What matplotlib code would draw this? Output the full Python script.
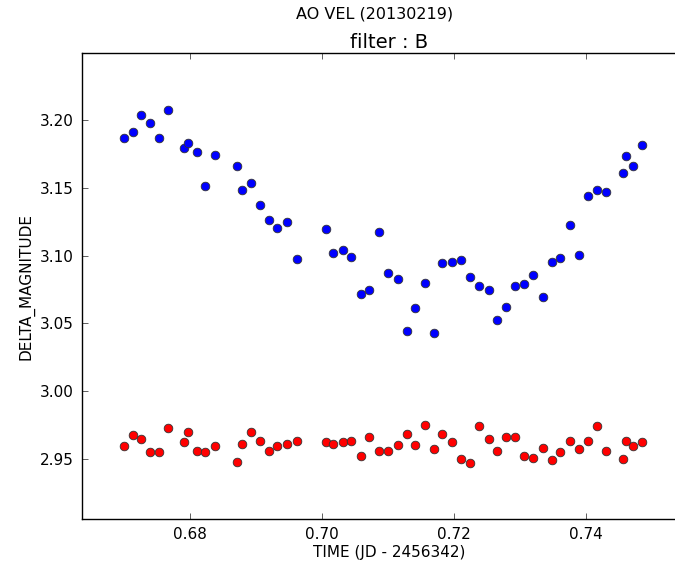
import numpy as np
import matplotlib
matplotlib.use('Agg')
import matplotlib.pyplot as plt

# time (JD - 2456342)
t = [0.6700, 0.6713, 0.6726, 0.6739, 0.6753, 0.6766, 0.6791, 0.6797, 0.6810, 0.6823,
     0.6837, 0.6871, 0.6878, 0.6892, 0.6906, 0.6919, 0.6932, 0.6947, 0.6961, 0.7006,
     0.7017, 0.7031, 0.7044, 0.7058, 0.7071, 0.7086, 0.7100, 0.7115, 0.7128, 0.7141,
     0.7156, 0.7169, 0.7182, 0.7197, 0.7210, 0.7224, 0.7237, 0.7252, 0.7265, 0.7278,
     0.7292, 0.7306, 0.7320, 0.7334, 0.7348, 0.7361, 0.7375, 0.7389, 0.7403, 0.7416,
     0.7430, 0.7455, 0.7461, 0.7471, 0.7485]

var_mag = [3.1867, 3.1911, 3.2039, 3.1982, 3.1867, 3.2076, 3.1798, 3.1832, 3.1768, 3.1515,
           3.1746, 3.1660, 3.1487, 3.1537, 3.1372, 3.1261, 3.1207, 3.1251, 3.0978, 3.1199,
           3.1022, 3.1042, 3.0992, 3.0719, 3.0749, 3.1173, 3.0872, 3.0828, 3.0446, 3.0611,
           3.0800, 3.0426, 3.0948, 3.0955, 3.0972, 3.0842, 3.0778, 3.0749, 3.0525, 3.0619,
           3.0778, 3.0791, 3.0857, 3.0692, 3.0955, 3.0980, 3.1229, 3.1007, 3.1439, 3.1487,
           3.1468, 3.1611, 3.1738, 3.1660, 3.1818]

check_mag = [2.9594, 2.9673, 2.9648, 2.9549, 2.9549, 2.9729, 2.9621, 2.9699, 2.9557, 2.9549,
             2.9594, 2.9478, 2.9609, 2.9699, 2.9629, 2.9557, 2.9594, 2.9609, 2.9629, 2.9621,
             2.9609, 2.9621, 2.9629, 2.9520, 2.9658, 2.9557, 2.9557, 2.9601, 2.9680, 2.9601,
             2.9749, 2.9572, 2.9680, 2.9621, 2.9500, 2.9466, 2.9744, 2.9643, 2.9557, 2.9658,
             2.9658, 2.9520, 2.9507, 2.9579, 2.9490, 2.9549, 2.9629, 2.9572, 2.9629, 2.9744,
             2.9557, 2.9500, 2.9629, 2.9592, 2.9621]

yticks = [2.95, 3.00, 3.05, 3.10, 3.15, 3.20]
xticks = [0.68, 0.70, 0.72, 0.74]

fig = plt.figure(figsize=(6.75, 5.63), dpi=100)
ax = fig.add_axes([0.1215, 0.0782, 0.9093, 0.827])

ax.plot(t, var_mag, 'o', color='#0000ff', mec='#333333', mew=0.6, ms=6.2)
ax.plot(t, check_mag, 'o', color='#ff0000', mec='#333333', mew=0.6, ms=6.2)

ax.set_xlim(0.6636, 0.7566)
ax.set_ylim(2.9055, 3.2495)
ax.set_xticks(xticks)
ax.set_xticklabels(['{:.2f}'.format(v) for v in xticks])
ax.set_yticks(yticks)
ax.set_yticklabels(['{:.2f}'.format(v) for v in yticks])
ax.tick_params(labelsize=11, direction='in', length=4, width=0.6, color='#444444',
               pad=6, top=True, right=False)
ax.spines['right'].set_visible(False)
for s in ['left', 'bottom', 'top']:
    ax.spines[s].set_linewidth(1.0)

ax.set_xlabel('TIME (JD - 2456342)', fontsize=11, labelpad=2)
ax.set_ylabel('DELTA_MAGNITUDE', fontsize=11, labelpad=3.7)
ax.set_title('filter : B', fontsize=14, pad=4)
fig.text(0.555, 0.975, 'AO VEL (20130219)', ha='center', va='center', fontsize=11.5)

fig.savefig('out.png', dpi=100)
